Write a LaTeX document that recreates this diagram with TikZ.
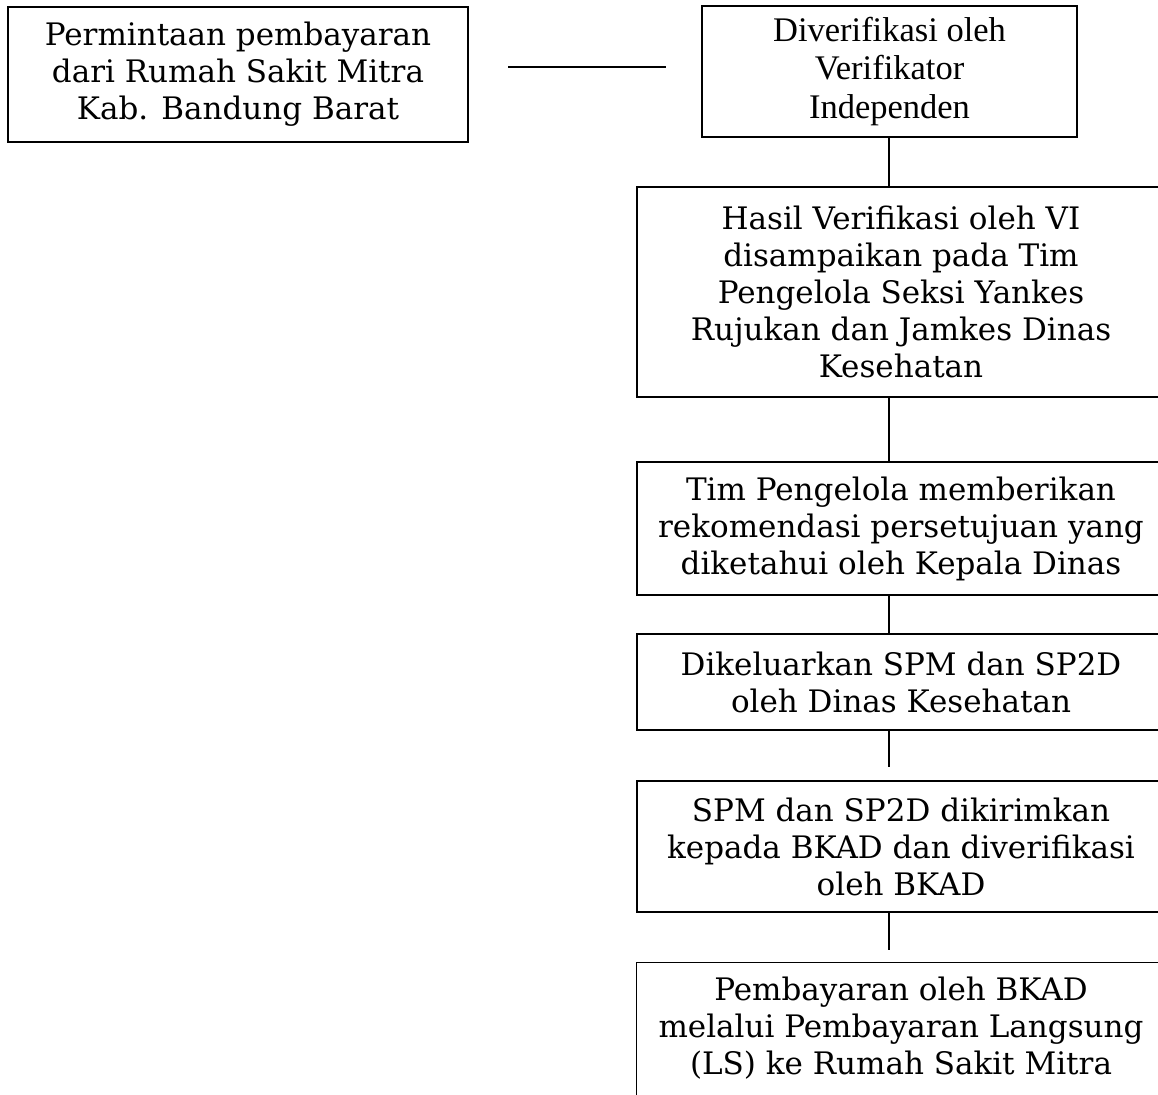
\documentclass[tikz,border=0pt]{standalone}
\usepackage{fontspec}
\newfontfamily\timesf{Liberation Serif}
\newfontfamily\bkfont{DejaVu Serif}
\usetikzlibrary{calc}
\begin{document}
\begin{tikzpicture}[x=1pt,y=-1pt,
  stepbox/.style={draw=black, line width=1.5pt, rectangle, inner sep=0pt, align=center},
  bk/.style={font=\bkfont\fontsize{31}{37}\selectfont},
  tm/.style={font=\timesf\fontsize{34.5}{38.5}\selectfont},
  link/.style={line width=1.5pt}]
\useasboundingbox (0,0) rectangle (1158,1094);
\clip (0,0) rectangle (1158,1094);
\node[stepbox,bk,minimum width=460pt,minimum height=135pt] (A) at (238,74.5)
  {Permintaan pembayaran\\dari Rumah Sakit Mitra\\Kab. Bandung Barat};
\node[stepbox,tm,minimum width=375pt,minimum height=131pt] (B) at (889.5,71.5)
  {Diverifikasi oleh\\Verifikator\\Independen};
\node[stepbox,bk,minimum width=528pt,minimum height=210pt] (C) at (901,292)
  {Hasil Verifikasi oleh VI\\disampaikan pada Tim\\Pengelola Seksi Yankes\\Rujukan dan Jamkes Dinas\\Kesehatan};
\node[stepbox,bk,minimum width=528pt,minimum height=133pt] (D) at (901,528.5)
  {Tim Pengelola memberikan\\rekomendasi persetujuan yang\\diketahui oleh Kepala Dinas};
\node[stepbox,bk,minimum width=528pt,minimum height=96pt] (E) at (901,682)
  {Dikeluarkan SPM dan SP2D\\oleh Dinas Kesehatan};
\node[stepbox,bk,minimum width=528pt,minimum height=131pt] (F) at (901,846.5)
  {SPM dan SP2D dikirimkan\\kepada BKAD dan diverifikasi\\oleh BKAD};
\node[stepbox,draw=none,bk,minimum width=528pt,minimum height=131pt] (G) at (901,1028.5)
  {Pembayaran oleh BKAD\\melalui Pembayaran Langsung\\(LS) ke Rumah Sakit Mitra};
\draw[link] ($(G.north west)+(0,200)$) -- (G.north west) -- (G.north east) -- ++(0,200);
\coordinate (ax) at (889,0);
\coordinate (l1) at (508,67);
\coordinate (l2) at (666,67);
\draw[link] (l1) -- (l2);
\draw[link] (B.south -| ax) -- (C.north -| ax);
\draw[link] (C.south -| ax) -- (D.north -| ax);
\draw[link] (D.south -| ax) -- (E.north -| ax);
\coordinate (fgap) at ($(F.north -| ax)+(0,-13)$);
\draw[link] (E.south -| ax) -- (fgap);
\coordinate (ggap) at ($(G.north -| ax)+(0,-12)$);
\draw[link] (F.south -| ax) -- (ggap);
\end{tikzpicture}
\end{document}
